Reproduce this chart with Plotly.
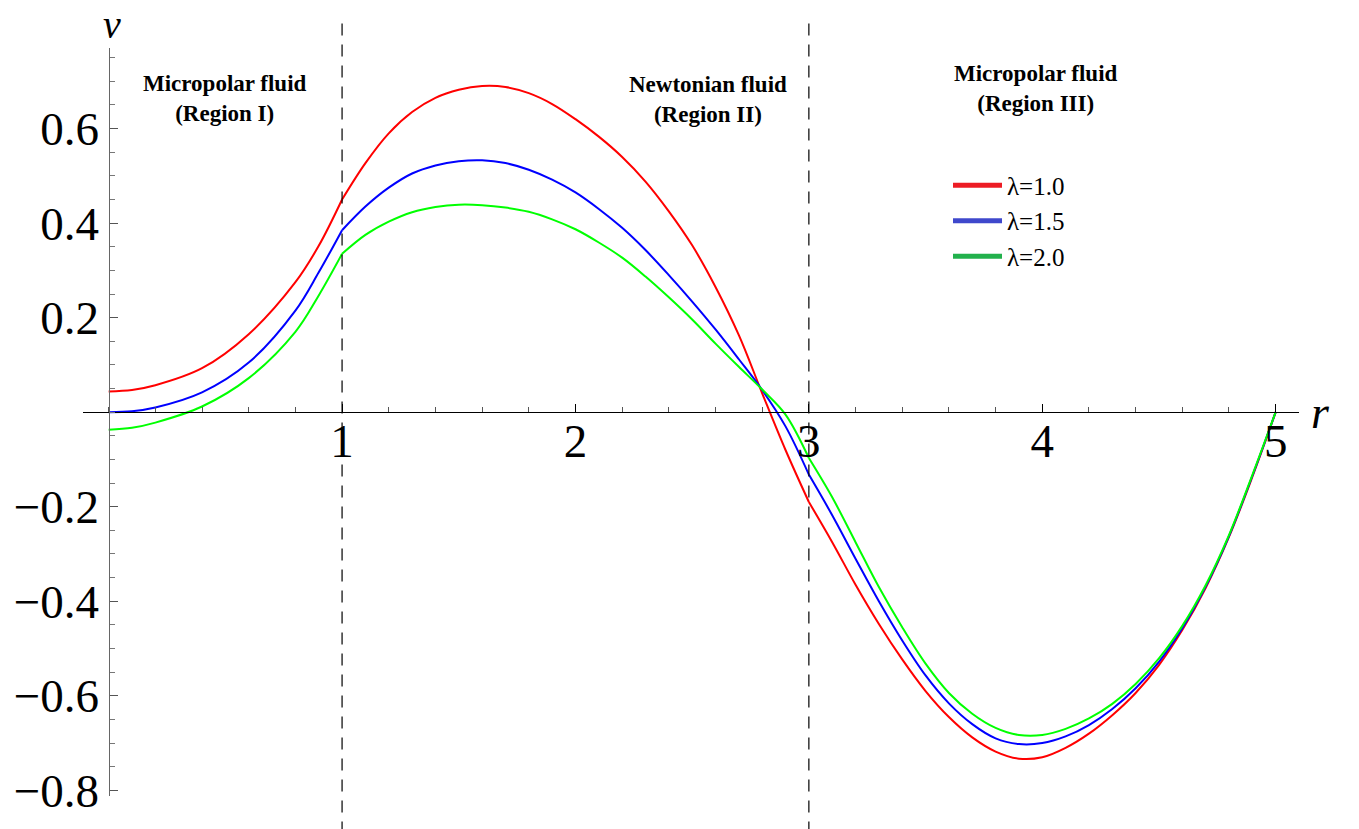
import plotly.graph_objects as go

# Radial positions for the three fluid regions
r_region1 = [0.0, 0.1, 0.2, 0.4, 0.6, 0.8, 0.9, 1.0]
r_region2 = [1.0, 1.1, 1.2, 1.3, 1.4, 1.5, 1.6, 1.7, 1.8, 1.9, 2.0,
             2.1, 2.2, 2.3, 2.4, 2.5, 2.6, 2.7, 2.8, 2.9, 3.0]
r_region3 = [3.0, 3.1, 3.2, 3.3, 3.4, 3.5, 3.6, 3.7, 3.8, 3.9, 4.0,
             4.1, 4.2, 4.3, 4.4, 4.5, 4.6, 4.7, 4.8, 4.9, 5.0]

# Velocity v for lambda = 1.0
v_lam10_region1 = [0.044, 0.047, 0.057, 0.093, 0.165, 0.275, 0.352, 0.450]
v_lam10_region2 = [0.450, 0.527, 0.590, 0.635, 0.665, 0.682, 0.690, 0.688, 0.675,
                   0.652, 0.620, 0.583, 0.540, 0.488, 0.425, 0.353, 0.265, 0.163,
                   0.040, -0.080, -0.190]
v_lam10_region3 = [-0.190, -0.275, -0.365, -0.448, -0.523, -0.590, -0.645, -0.688,
                   -0.718, -0.733, -0.730, -0.710, -0.680, -0.641, -0.594, -0.535,
                   -0.461, -0.372, -0.264, -0.137, 0.0]

# Velocity v for lambda = 1.5
v_lam15_region1 = [0.0, 0.002, 0.010, 0.042, 0.105, 0.215, 0.296, 0.385]
v_lam15_region2 = [0.385, 0.435, 0.475, 0.505, 0.522, 0.531, 0.533, 0.527, 0.513,
                   0.492, 0.465, 0.430, 0.390, 0.343, 0.290, 0.234, 0.175, 0.112,
                   0.047, -0.030, -0.132]
v_lam15_region3 = [-0.132, -0.218, -0.310, -0.400, -0.483, -0.557, -0.616, -0.660,
                   -0.690, -0.702, -0.700, -0.686, -0.662, -0.628, -0.584, -0.528,
                   -0.457, -0.369, -0.262, -0.135, 0.0]

# Velocity v for lambda = 2.0
v_lam20_region1 = [-0.037, -0.033, -0.022, 0.012, 0.072, 0.170, 0.247, 0.335]
v_lam20_region2 = [0.335, 0.375, 0.403, 0.423, 0.434, 0.439, 0.438, 0.433, 0.424,
                   0.408, 0.387, 0.359, 0.327, 0.287, 0.243, 0.196, 0.145, 0.096,
                   0.048, -0.005, -0.097]
v_lam20_region3 = [-0.097, -0.180, -0.275, -0.370, -0.455, -0.532, -0.594, -0.638,
                   -0.668, -0.683, -0.683, -0.670, -0.648, -0.617, -0.575, -0.521,
                   -0.452, -0.366, -0.260, -0.133, 0.0]

lambda_labels = ["λ=1.0", "λ=1.5", "λ=2.0"]
curve_colors = ["#ff0000", "#0000ff", "#00ff00"]
legend_colors = ["#ed1c24", "#3f48cc", "#22b14c"]

x_ticks = [1, 2, 3, 4, 5]
x_tick_text = ["1", "2", "3", "4", "5"]
y_ticks = [-0.8, -0.6, -0.4, -0.2, 0.2, 0.4, 0.6]
y_tick_text = ["\u22120.8", "\u22120.6", "\u22120.4", "\u22120.2", "0.2", "0.4", "0.6"]

region_bounds = [1, 3]
region_labels = ["Micropolar fluid<br>(Region I)",
                 "Newtonian fluid<br>(Region II)",
                 "Micropolar fluid<br>(Region III)"]
region_label_r = [0.497, 2.567, 3.975]
region_label_v = [0.663, 0.661, 0.684]

series = [
    (v_lam10_region1, v_lam10_region2, v_lam10_region3),
    (v_lam15_region1, v_lam15_region2, v_lam15_region3),
    (v_lam20_region1, v_lam20_region2, v_lam20_region3),
]
regions_r = [r_region1, r_region2, r_region3]

SERIF = "Liberation Serif, Times New Roman, serif"

fig = go.Figure()

# Each region is drawn as its own smooth segment so the slope breaks at the interfaces stay sharp
for i, parts in enumerate(series):
    for r_vals, v_vals in zip(regions_r, parts):
        fig.add_trace(go.Scatter(
            x=r_vals, y=v_vals, mode="lines",
            line=dict(color=curve_colors[i], width=2, shape="spline", smoothing=1.0),
            showlegend=False, hoverinfo="skip",
        ))

# Legend entries
for i, label in enumerate(lambda_labels):
    fig.add_trace(go.Scatter(
        x=[None], y=[None], mode="lines", name=label,
        line=dict(color=legend_colors[i], width=5),
        legendgroup=label, showlegend=True,
    ))

# Dashed interface lines between the regions
for rb in region_bounds:
    fig.add_shape(type="line", xref="x", yref="paper", x0=rb, x1=rb,
                  y0=-0.05, y1=1.044,
                  line=dict(color="black", width=1.2, dash="12px,9px"))

for txt, rx, vy in zip(region_labels, region_label_r, region_label_v):
    fig.add_annotation(x=rx, y=vy, xref="x", yref="y", text="<b>" + txt + "</b>",
                       showarrow=False, align="center",
                       font=dict(family=SERIF, size=23, color="black"))

# Axis letters
fig.add_annotation(x=0.0238, y=1.0638, xref="paper", yref="paper", text="<i>v</i>",
                   xanchor="center", yanchor="top", showarrow=False,
                   font=dict(family=SERIF, size=40, color="black"))
fig.add_annotation(x=1.018, y=0.5133, xref="paper", yref="paper", text="<i>r</i>",
                   xanchor="center", yanchor="middle", showarrow=False,
                   font=dict(family=SERIF, size=46, color="black"))

x_range = [-0.11, 5.1]
y_range = [-0.812, 0.7705]
zero_frac = (0 - y_range[0]) / (y_range[1] - y_range[0])
left_frac = (0 - x_range[0]) / (x_range[1] - x_range[0])

fig.update_layout(
    width=1359, height=829,
    margin=dict(l=83, r=60, t=48, b=29),
    paper_bgcolor="white", plot_bgcolor="white",
    xaxis=dict(
        range=x_range, anchor="free", position=zero_frac,
        showline=True, linecolor="black", linewidth=1.3,
        showgrid=False, zeroline=False,
        ticks="inside", ticklen=8, tickwidth=1, tickcolor="black",
        tickmode="array", tickvals=x_ticks, ticktext=x_tick_text,
        tickfont=dict(family=SERIF, size=47, color="black"),
        ticklabelstandoff=-13,
        minor=dict(tickmode="linear", tick0=0, dtick=0.2, ticks="inside",
                   ticklen=5, tickwidth=1, tickcolor="#555555"),
    ),
    yaxis=dict(
        range=y_range, anchor="free", position=left_frac,
        showline=True, linecolor="#666666", linewidth=1.3,
        showgrid=False, zeroline=False,
        ticks="inside", ticklen=8, tickwidth=1, tickcolor="#555555",
        tickmode="array", tickvals=y_ticks, ticktext=y_tick_text,
        tickfont=dict(family=SERIF, size=47, color="black"),
        minor=dict(tickmode="linear", tick0=0, dtick=0.05, ticks="inside",
                   ticklen=5, tickwidth=1, tickcolor="#777777"),
    ),
    legend=dict(
        x=(948 - 83) / 1216, y=(800 - 163) / 752, xanchor="left", yanchor="top",
        bgcolor="rgba(0,0,0,0)", borderwidth=0, tracegroupgap=0, itemwidth=49,
        font=dict(family=SERIF, size=25, color="black"),
    ),
    showlegend=True,
)

fig.write_html("out.html")
